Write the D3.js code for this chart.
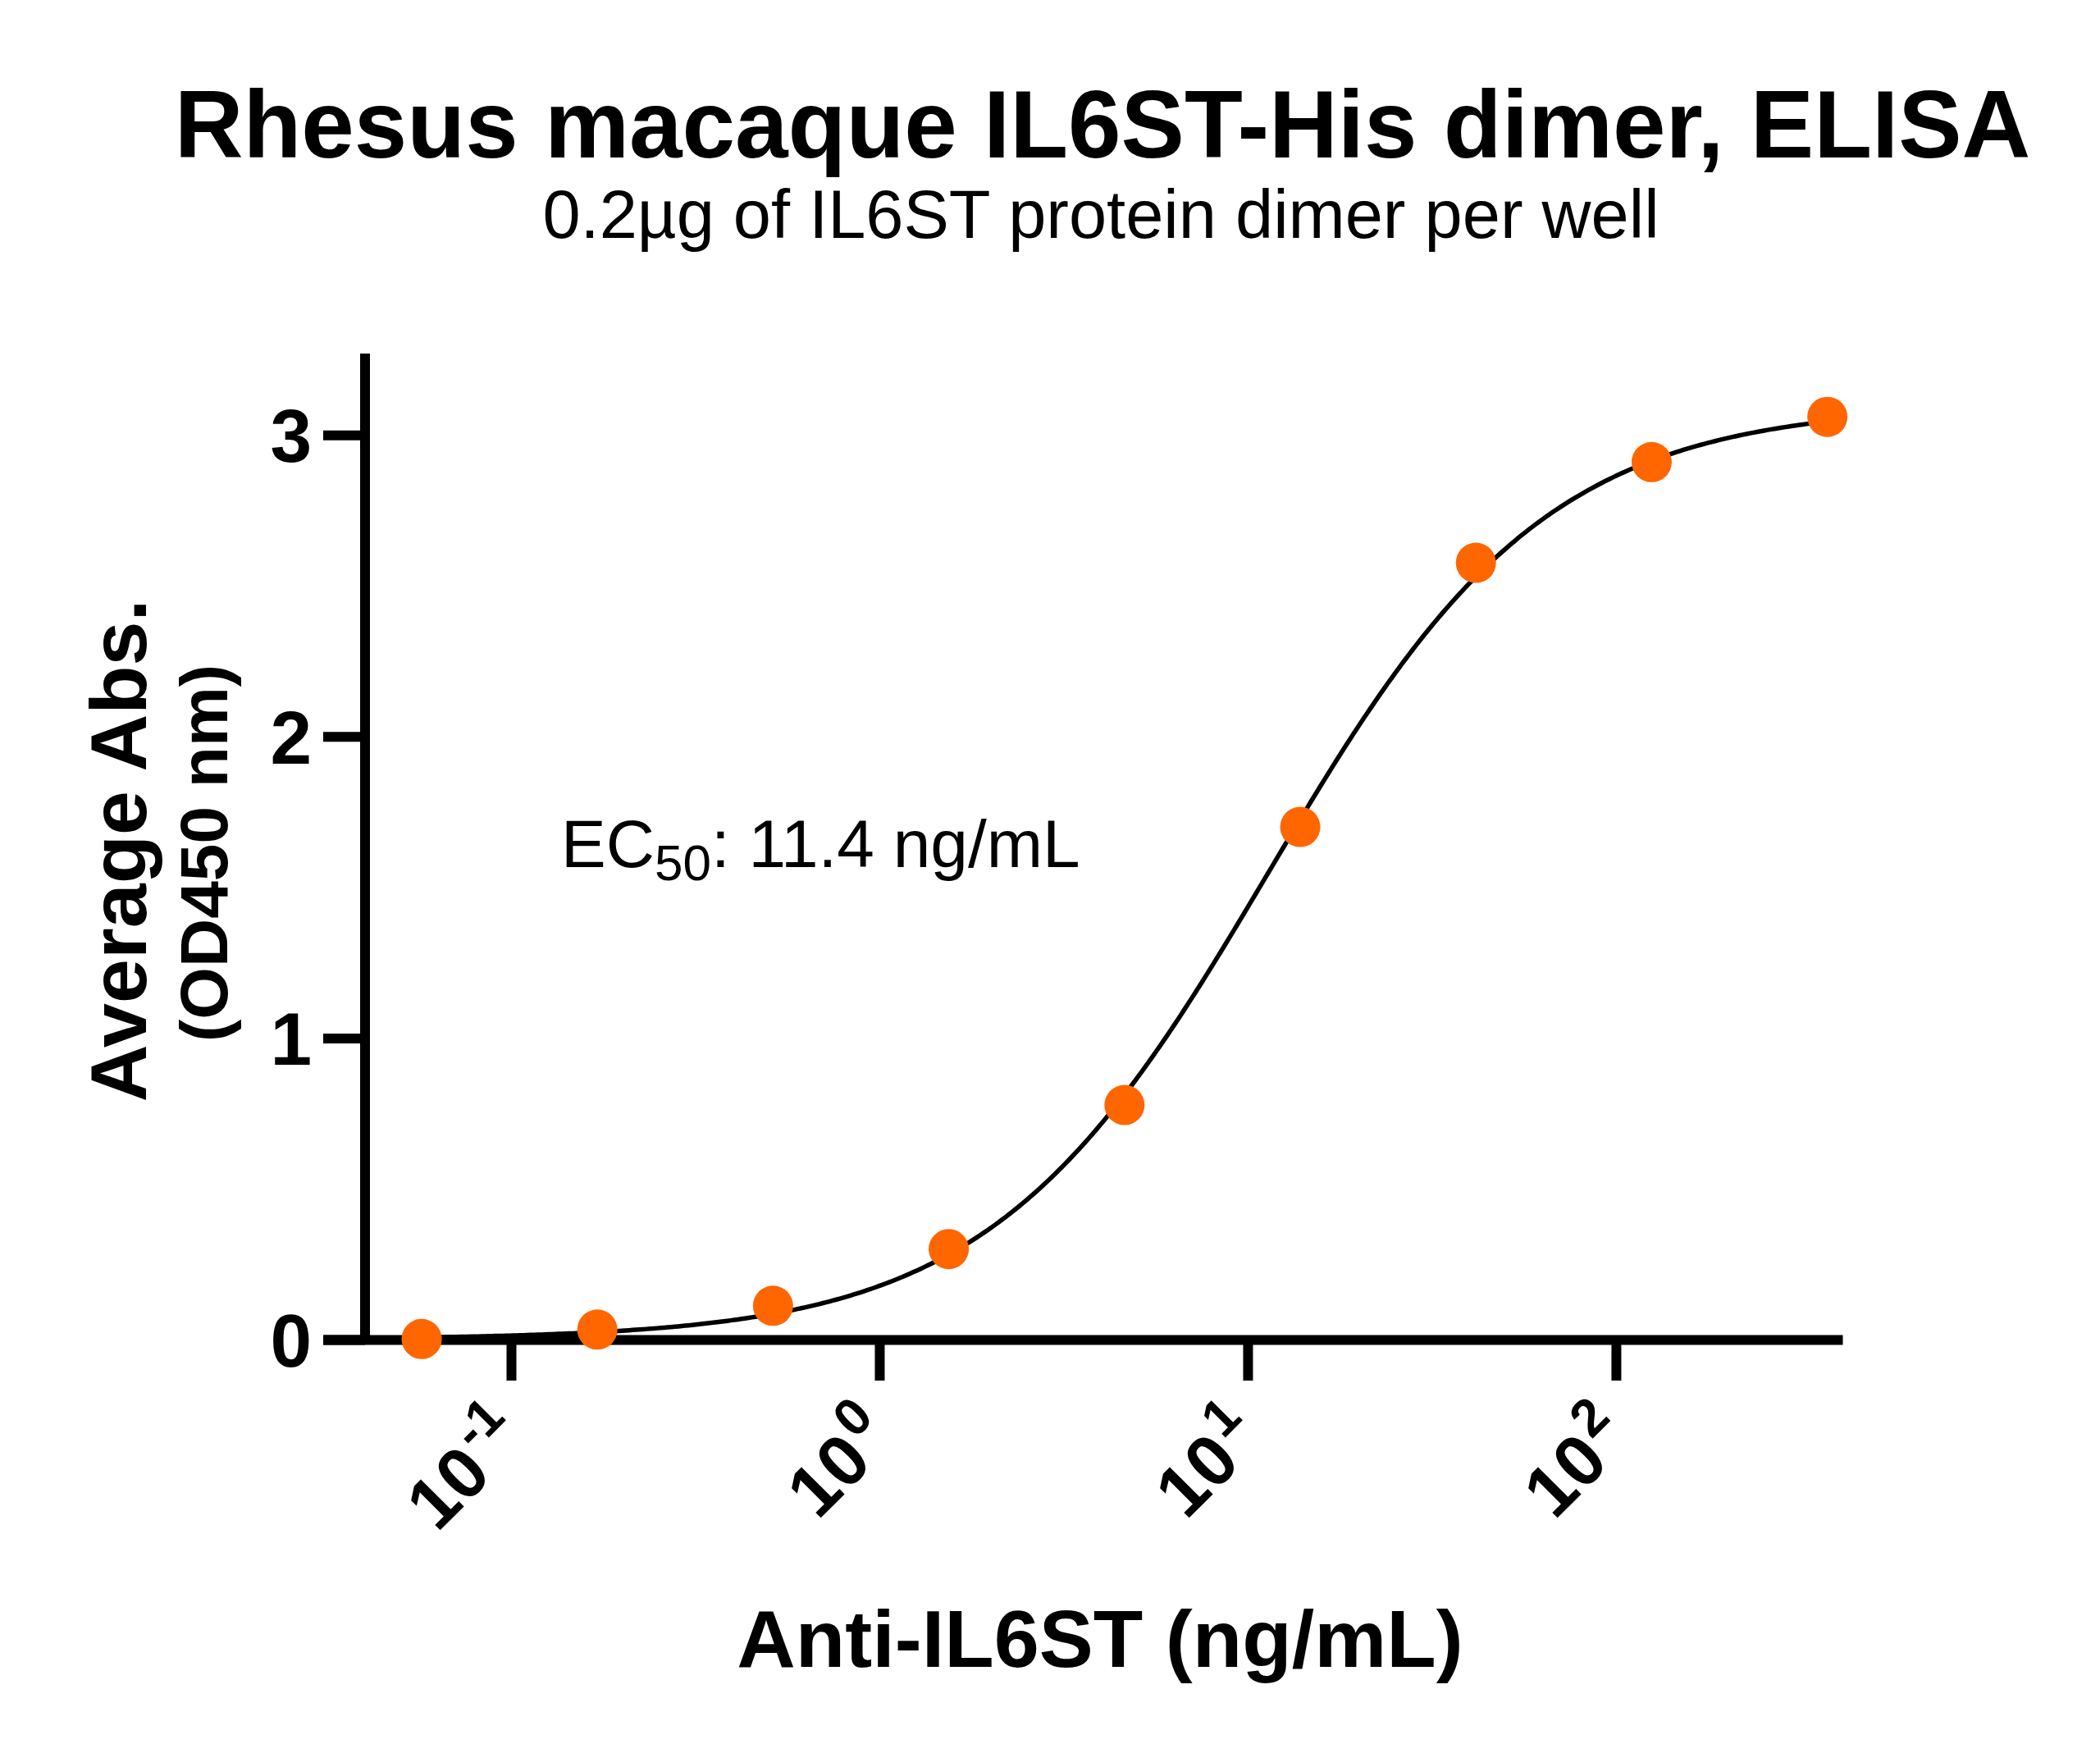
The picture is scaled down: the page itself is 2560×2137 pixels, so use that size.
<!DOCTYPE html>
<html>
<head>
<meta charset="utf-8">
<script src="https://cdn.jsdelivr.net/npm/d3@7"></script>
<style>
  html, body { margin: 0; padding: 0; background: #fff; }
  svg { display: block; }
  text { font-family: "Liberation Sans", Arial, Helvetica, sans-serif; fill: #000; }
</style>
</head>
<body>
<svg id="chart" width="2560" height="2137"></svg>
<script>
// ---- data ----
const concentrations = [0.0572, 0.1715, 0.5144, 1.543, 4.63, 13.89, 41.67, 125, 375]; // ng/mL
const absorbance     = [0.002, 0.033, 0.112, 0.30, 0.778, 1.70, 2.576, 2.91, 3.06];   // OD450
const xTickValues = [0.1, 1, 10, 100];
const xTickExponents = ["-1", "0", "1", "2"];
const yTickValues = [0, 1, 2, 3];
const xDomain = [0.0309, 412];
const yDomain = [0, 3.27];
// 4PL fit parameters (EC50 as printed on the chart)
const fitBottom = 0.0, fitTop = 3.10, fitEC50 = 11.4, fitHill = 1.15;

const title = "Rhesus macaque IL6ST-His dimer, ELISA";
const subtitle = "0.2\u00b5g of IL6ST protein dimer per well";
const xTitle = "Anti-IL6ST (ng/mL)";
const yTitle1 = "Average Abs.";
const yTitle2 = "(OD450 nm)";

// ---- layout ----
const svg = d3.select("#chart");
const xAxisY = 1633, yAxisX = 445;
const x = d3.scaleLog().domain(xDomain).range([394, 2246]);
const y = d3.scaleLinear().domain(yDomain).range([1633, 431]);
const FONT = '"Liberation Sans", Arial, Helvetica, sans-serif';

// titles
svg.append("text").attr("x", 1344).attr("y", 192).attr("text-anchor", "middle")
  .attr("font-size", 116).attr("font-weight", "bold").text(title);
svg.append("text").attr("x", 1342).attr("y", 290).attr("text-anchor", "middle")
  .attr("font-size", 83).text(subtitle);

// y axis
const yAxis = svg.append("g").attr("transform", `translate(${yAxisX},0)`)
  .call(d3.axisLeft(y).tickValues(yTickValues).tickSize(51).tickSizeOuter(0).tickPadding(14)
        .tickFormat(d3.format("d")));
yAxis.select(".domain").attr("stroke-width", 12).attr("stroke", "#000")
  .attr("d", `M0,${y(yDomain[1])}V${xAxisY + 6}`);
yAxis.selectAll(".tick line").attr("stroke-width", 12).attr("stroke", "#000");
yAxis.selectAll(".tick text").attr("font-size", 91).attr("font-weight", "bold")
  .attr("font-family", FONT).attr("dy", "0.355em");

// x axis
const xAxis = svg.append("g").attr("transform", `translate(0,${xAxisY})`)
  .call(d3.axisBottom(x).tickValues(xTickValues).tickSize(50).tickSizeOuter(0).tickFormat(""));
xAxis.select(".domain").attr("stroke-width", 12).attr("stroke", "#000");
xAxis.selectAll(".tick line").attr("stroke-width", 12).attr("stroke", "#000");

// x tick labels: 10^n rotated -45
xTickValues.forEach((v, i) => {
  const g = svg.append("g")
    .attr("transform", `translate(${x(v) + 22},${1757}) rotate(-45)`);
  const t = g.append("text").attr("text-anchor", "end")
    .attr("font-size", 88).attr("font-weight", "bold");
  t.append("tspan").text("10");
  t.append("tspan").attr("font-size", 64).attr("dx", 4).attr("dy", -38).text(xTickExponents[i]);
});

// axis titles
svg.append("text").attr("x", 1341).attr("y", 2032).attr("text-anchor", "middle")
  .attr("font-size", 99).attr("font-weight", "bold").text(xTitle);
svg.append("text").attr("transform", "translate(178,1037) rotate(-90)")
  .attr("text-anchor", "middle").attr("font-size", 97).attr("font-weight", "bold").text(yTitle1);
svg.append("text").attr("transform", "translate(277,1040) rotate(-90)")
  .attr("text-anchor", "middle").attr("font-size", 82).attr("font-weight", "bold").text(yTitle2);

// EC50 annotation
const ec = svg.append("text").attr("x", 684).attr("y", 1057).attr("font-size", 82);
ec.append("tspan").text("EC");
ec.append("tspan").attr("font-size", 62).attr("dy", 16).text("50");
ec.append("tspan").attr("dy", -16).text(": " + fitEC50 + " ng/mL");

// fitted 4PL curve
const fit = c => fitBottom + (fitTop - fitBottom) / (1 + Math.pow(fitEC50 / c, fitHill));
const lx0 = Math.log10(d3.min(concentrations)), lx1 = Math.log10(d3.max(concentrations));
const curvePts = d3.range(0, 401).map(i => {
  const c = Math.pow(10, lx0 + (lx1 - lx0) * i / 400);
  return [c, fit(c)];
});
svg.append("path").datum(curvePts)
  .attr("fill", "none").attr("stroke", "#000").attr("stroke-width", 5.5)
  .attr("d", d3.line().x(d => x(d[0])).y(d => y(d[1])));

// data points
svg.append("g").selectAll("circle").data(concentrations.map((c, i) => [c, absorbance[i]]))
  .join("circle")
  .attr("cx", d => x(d[0])).attr("cy", d => y(d[1])).attr("r", 24.5)
  .attr("fill", "#ff6600");
</script>
</body>
</html>
